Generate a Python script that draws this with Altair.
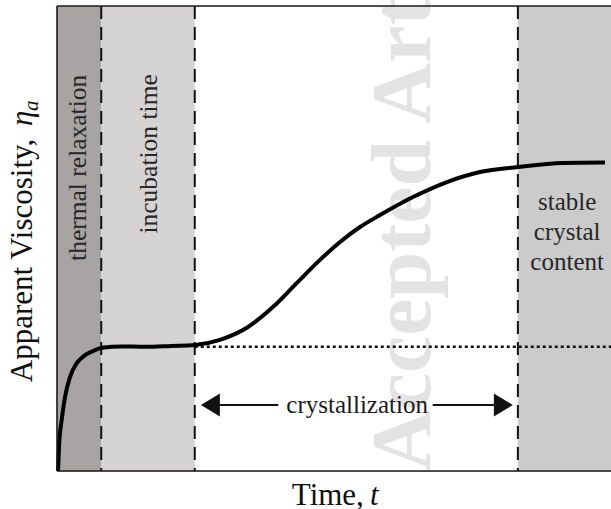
import altair as alt
import pandas as pd

# --- data -----------------------------------------------------------------
# viscosity curve (time in arbitrary units, viscosity normalised 0-1)
time_pts = [0.18, 0.36, 0.84, 1.43, 2.32, 3.52, 5.0, 6.79, 7.98, 11.55, 15.71,
            20.48, 24.64, 29.1, 33.9, 38.6, 42.8, 46.96, 50.54, 54.11, 57.68,
            63.57, 69.64, 75.54, 82.32, 90.36, 97.86]
visc_pts = [0.0, 0.052, 0.110, 0.159, 0.202, 0.232, 0.249, 0.260, 0.265, 0.268,
            0.267, 0.269, 0.271, 0.282, 0.308, 0.353, 0.404, 0.454, 0.4925,
            0.5247, 0.5505, 0.5892, 0.6215, 0.6430, 0.6538, 0.6624, 0.6634]

T_MAX = 98.93  # visible end of the time axis

# shaded regimes
band_start = [0.0, 7.9, 82.3]
band_end = [7.9, 24.6, T_MAX]
band_fill = ["#a8a4a4", "#d5d3d4", "#cbcbcb"]

# regime boundaries and the plateau level after thermal relaxation
divider_t = [7.9, 24.6, 82.3]
plateau_v = 0.267

# crystallization arrow
arrow_tip_left = 25.7
arrow_tip_right = 81.4
arrow_v = 0.142
arrow_gap = [39.5, 67.1]

FONT = "Liberation Serif"
INK = "#111111"

X_SCALE = alt.Scale(domain=[0, T_MAX], nice=False, zero=False)
Y_SCALE = alt.Scale(domain=[0, 1], nice=False, zero=False)


def X(field, **kw):
    return alt.X(field, type="quantitative", scale=X_SCALE, axis=None, **kw)


def Y(field, **kw):
    return alt.Y(field, type="quantitative", scale=Y_SCALE, axis=None, **kw)


# --- layers ---------------------------------------------------------------
bands_df = pd.DataFrame({"t0": band_start, "t1": band_end, "fill": band_fill,
                         "v0": [0] * 3, "v1": [1] * 3})
bands = alt.Chart(bands_df).mark_rect(strokeWidth=0).encode(
    x=X("t0"), x2="t1", y=Y("v0"), y2="v1",
    color=alt.Color("fill:N", scale=None),
)

stamp = alt.Chart(pd.DataFrame({"t": [66.6], "v": [0.0],
                                "s": ["Accepted Article"]})).mark_text(
    angle=270, align="left", baseline="alphabetic", font=FONT,
    fontSize=84, fontWeight="bold", color="#e3e3e3",
).encode(x=X("t"), y=Y("v"), text="s:N")

dividers = alt.Chart(pd.DataFrame({"t": divider_t, "top": [1] * 3,
                                   "bot": [0] * 3})).mark_rule(
    color=INK, strokeWidth=2, strokeDash=[13, 8],
).encode(x=X("t"), y=Y("top"), y2="bot")

plateau = alt.Chart(pd.DataFrame({"t0": [divider_t[1]], "t1": [T_MAX],
                                  "v": [plateau_v]})).mark_rule(
    color=INK, strokeWidth=2.5, strokeDash=[3, 3],
).encode(x=X("t0"), x2="t1", y=Y("v"))

curve = alt.Chart(pd.DataFrame({"t": time_pts, "v": visc_pts})).mark_line(
    color="#000000", strokeWidth=4, interpolate="monotone", strokeCap="butt",
).encode(x=X("t"), y=Y("v"))

arrow_lines = alt.Chart(pd.DataFrame({
    "t0": [arrow_tip_left + 2, arrow_gap[1]],
    "t1": [arrow_gap[0], arrow_tip_right - 2],
    "v": [arrow_v, arrow_v]})).mark_rule(color=INK, strokeWidth=2).encode(
    x=X("t0"), x2="t1", y=Y("v"))

head_left = alt.Chart(pd.DataFrame({"t": [arrow_tip_left], "v": [arrow_v]})).mark_point(
    shape="M 0 0 L 1.65 -1 L 1.65 1 Z", size=529, filled=True,
    color=INK, opacity=1, strokeWidth=0,
).encode(x=X("t"), y=Y("v"))

head_right = alt.Chart(pd.DataFrame({"t": [arrow_tip_right], "v": [arrow_v]})).mark_point(
    shape="M 0 0 L -1.65 -1 L -1.65 1 Z", size=529, filled=True,
    color=INK, opacity=1, strokeWidth=0,
).encode(x=X("t"), y=Y("v"))

cryst_label = alt.Chart(pd.DataFrame({"t": [53.6], "v": [0.125],
                                      "s": ["crystallization"]})).mark_text(
    font=FONT, fontSize=25, color="#1a1a1a", align="center", baseline="alphabetic",
).encode(x=X("t"), y=Y("v"), text="s:N")

band_labels = alt.Chart(pd.DataFrame({
    "t": [3.75, 16.4], "v": [0.652, 0.682],
    "s": ["thermal relaxation", "incubation time"]})).mark_text(
    font=FONT, fontSize=25.5, color="#262626", angle=270,
    align="center", baseline="middle",
).encode(x=X("t"), y=Y("v"), text="s:N")

stable_label = alt.Chart(pd.DataFrame({
    "t": [91.1] * 3, "v": [0.561, 0.497, 0.432],
    "s": ["stable", "crystal", "content"]})).mark_text(
    font=FONT, fontSize=25, color="#262626", align="center", baseline="alphabetic",
).encode(x=X("t"), y=Y("v"), text="s:N")

# axis titles (regular text with italic symbols)
x_title = alt.Chart(pd.DataFrame({"t": [54.8], "v": [-0.073],
                                  "s": ["Time,"]})).mark_text(
    font=FONT, fontSize=31, color=INK, align="right", baseline="alphabetic",
).encode(x=X("t"), y=Y("v"), text="s:N")
x_sym = alt.Chart(pd.DataFrame({"t": [55.9], "v": [-0.073], "s": ["t"]})).mark_text(
    font=FONT, fontSize=31, fontStyle="italic", color=INK,
    align="left", baseline="alphabetic",
).encode(x=X("t"), y=Y("v"), text="s:N")

y_title = alt.Chart(pd.DataFrame({"t": [-4.46], "v": [0.191],
                                  "s": ["Apparent Viscosity,"]})).mark_text(
    font=FONT, fontSize=31, color=INK, angle=270, align="left",
    baseline="alphabetic",
).encode(x=X("t"), y=Y("v"), text="s:N")
y_sym = alt.Chart(pd.DataFrame({"t": [-4.46], "v": [0.742], "s": ["η"]})).mark_text(
    font=FONT, fontSize=31, fontStyle="italic", color=INK, angle=270,
    align="left", baseline="alphabetic",
).encode(x=X("t"), y=Y("v"), text="s:N")
y_sub = alt.Chart(pd.DataFrame({"t": [-3.39], "v": [0.774], "s": ["a"]})).mark_text(
    font=FONT, fontSize=21, fontStyle="italic", color=INK, angle=270,
    align="left", baseline="alphabetic",
).encode(x=X("t"), y=Y("v"), text="s:N")

# plot frame (left, bottom, top)
frame_h = alt.Chart(pd.DataFrame({"t0": [0, 0], "t1": [T_MAX, T_MAX],
                                  "v": [0, 1]})).mark_rule(
    color="#1a1a1a", strokeWidth=1.6).encode(x=X("t0"), x2="t1", y=Y("v"))
frame_v = alt.Chart(pd.DataFrame({"t": [0], "v0": [0], "v1": [1]})).mark_rule(
    color="#1a1a1a", strokeWidth=1.6).encode(x=X("t"), y=Y("v0"), y2="v1")

chart = alt.layer(
    bands, stamp, dividers, plateau, curve, arrow_lines, head_left, head_right,
    cryst_label, band_labels, stable_label, x_title, x_sym, y_title, y_sym, y_sub,
    frame_h, frame_v,
).properties(
    width=554, height=465,
    autosize=alt.AutoSizeParams(type="none"),
    padding={"left": 57, "top": 6, "right": 0, "bottom": 38},
).configure_view(stroke=None).configure(background="#ffffff")

chart.save("out.html", embed_options={"renderer": "svg", "actions": False})
